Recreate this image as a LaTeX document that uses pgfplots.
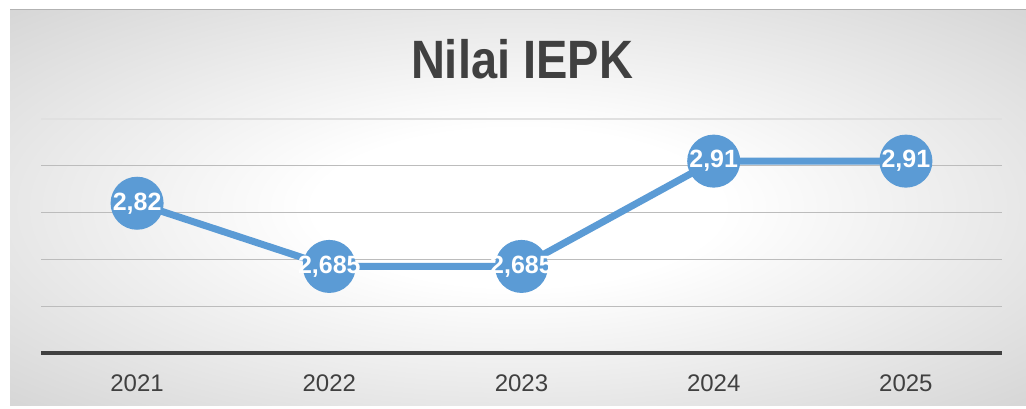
\documentclass[border=0pt]{standalone}
\usepackage{graphicx}
\usepackage{pgfplots}
\pgfplotsset{compat=1.18}
\usepackage{fontspec}
\setmainfont{Liberation Sans}
\definecolor{lineblue}{HTML}{5B9BD5}
\definecolor{txtgray}{HTML}{404040}
\definecolor{gridgray}{HTML}{BCBCBC}
\pgfdeclareradialshading{bgshade}{\pgfpoint{0bp}{0bp}}{color(0bp)=(white); color(10bp)=(white); color(45bp)=(black!22); color(75bp)=(black!30)}
\begin{document}
\begin{tikzpicture}[x=1pt,y=1pt]
\useasboundingbox (0,0) rectangle (1026,408);
\shade[shading=bgshade] (10,3) rectangle (1026,398);
\draw[black!30, line width=1pt] (10,398) -- (1026,398);
\node[text=txtgray] at (522,349) {\scalebox{0.87}[1]{\fontsize{54}{60}\selectfont\bfseries Nilai IEPK}};
\begin{axis}[
  at={(41pt,55pt)}, anchor=south west,
  scale only axis, width=961pt, height=234pt,
  xmin=-0.5, xmax=4.5, ymin=2.5, ymax=3.0,
  xtick={0,1,2,3,4}, xticklabels={2021,2022,2023,2024,2025},
  ytick={2.6,2.7,2.8,2.9}, yticklabels={},
  ymajorgrids, major grid style={gridgray, line width=1.2pt},
  axis x line*=bottom, axis y line*=left,
  x axis line style={draw=none}, y axis line style={draw=none},
  major tick length=0pt,
  xticklabel style={font=\fontsize{24}{27}\selectfont, text=txtgray, yshift=-18pt},
  clip=false,
  point meta=explicit symbolic,
  nodes near coords,
  nodes near coords align={center},
  every node near coord/.append style={font=\fontsize{25}{27}\selectfont\bfseries, text=white, anchor=center},
]
\draw[black!12, line width=1.2pt] (axis cs:-0.5,3.0) -- (axis cs:4.5,3.0);
\draw[txtgray, line width=4pt] (axis cs:-0.5,2.5) -- (axis cs:4.5,2.5);
\addplot[lineblue, line width=7pt, mark=*, mark size=23pt, mark options={fill=lineblue, draw=none}] table[x=x, y=y, meta=lab] {
x y lab
0 2.82 2,82
1 2.685 2,685
2 2.685 2,685
3 2.91 2,91
4 2.91 2,91
};
\end{axis}
\end{tikzpicture}
\end{document}
